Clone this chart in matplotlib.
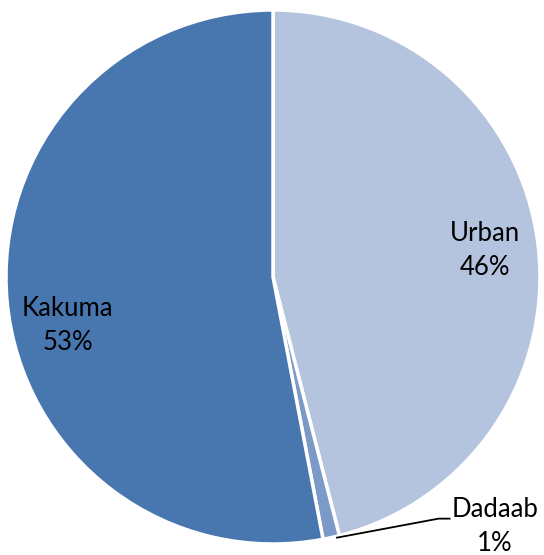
import numpy as np
import matplotlib
matplotlib.use('Agg')
import matplotlib.pyplot as plt

labels = ['Urban', 'Dadaab', 'Kakuma']
shares = [46, 1, 53]
colours = ['#B4C4DF', '#7C9AC8', '#4876AE']

plt.rcParams['font.family'] = ['Lato', 'DejaVu Sans']

fig = plt.figure(figsize=(5.44, 5.55), dpi=100)
W, H = 544, 555
cx, cy, r = 273, 278, 267
ax = fig.add_axes([(cx - r) / W, (cy - r) / H, 2 * r / W, 2 * r / H])

wedges, _ = ax.pie(shares, colors=colours, startangle=90, counterclock=False,
                   wedgeprops=dict(edgecolor='white', linewidth=2.5))
ax.set_xlim(-1, 1)
ax.set_ylim(-1, 1)
ax.set_aspect('equal')
ax.axis('off')

fs = 18.5
ls = 1.45

# labels inside the two big slices
for w, lab, val, rad, shift in [(wedges[0], labels[0], shares[0], 0.80, 0),
                                (wedges[2], labels[2], shares[2], 0.79, 8)]:
    ang = np.deg2rad((w.theta1 + w.theta2) / 2 + shift)
    ax.text(rad * np.cos(ang), rad * np.sin(ang), f'{lab}\n{val}%',
            ha='center', va='center', fontsize=fs, linespacing=ls)

# Dadaab outside, with leader line
w = wedges[1]
ang = np.deg2rad((w.theta1 + w.theta2) / 2 + 1)
lx, ly = 0.83, -0.935
ax.text(lx, ly, f'{labels[1]}\n{shares[1]}%', ha='center', va='center',
        fontsize=fs, linespacing=ls, clip_on=False)
ax.plot([1.005 * np.cos(ang), lx - 0.21, lx - 0.165],
        [1.005 * np.sin(ang), ly + 0.03, ly + 0.03],
        color='black', lw=1.3, clip_on=False, solid_capstyle='butt')

fig.savefig('out.png', dpi=100)
